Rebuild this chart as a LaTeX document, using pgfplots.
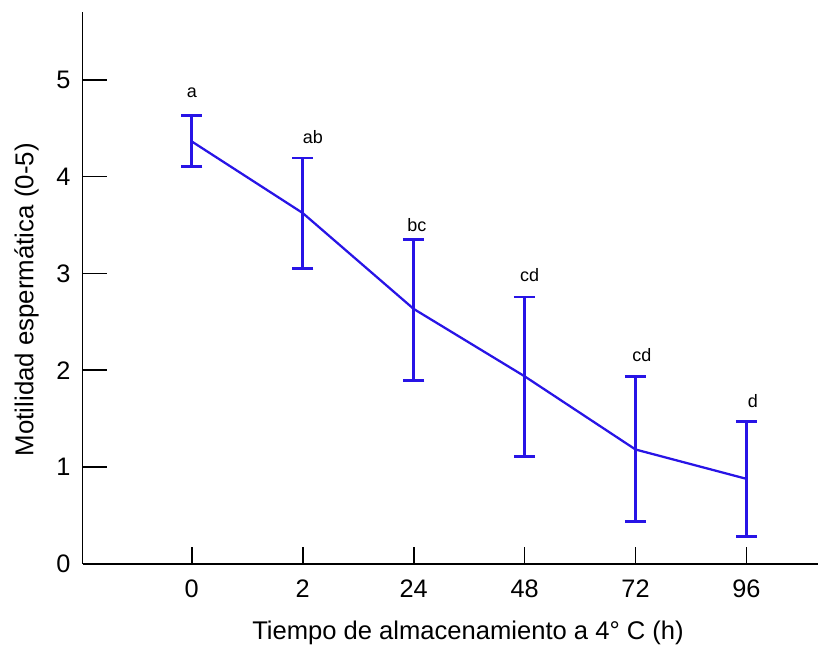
\documentclass[border=0pt]{standalone}
\usepackage{fontspec}
\setmainfont{Liberation Sans}
\usepackage{pgfplots}
\usepackage{pgfplotstable}
\pgfplotsset{compat=1.18}
\definecolor{lineblue}{RGB}{40,20,230}

\pgfplotstableread{
x y ep em
0 4.363 0.269 0.258
1 3.624 0.568 0.574
2 2.634 0.715 0.740
3 1.938 0.819 0.826
4 1.182 0.756 0.740
5 0.879 0.588 0.598
}\motdata

\pgfplotstableread{
x y label
0     4.821 a
1.092 4.347 ab
2.029 3.434 bc
3.046 2.912 cd
4.058 2.087 cd
5.058 1.612 d
}\letdata

\begin{document}
\begin{tikzpicture}
\begin{axis}[
  name=ax,
  scale only axis,
  width=552.2pt, height=414.4pt,
  xmin=-0.984, xmax=5.646,
  ymin=0, ymax=5.70,
  clip=false,
  axis x line=bottom, axis y line=left,
  axis line style={-, line width=1.3pt, black},
  tick align=inside,
  xtick={0,1,2,3,4,5},
  xticklabels={0,2,24,48,72,96},
  ytick={0,1,2,3,4,5},
  minor tick num=0,
  xtick style={line width=1.3pt, black, /pgfplots/major tick length=13pt},
  ytick style={line width=1.3pt, black, /pgfplots/major tick length=18pt},
  /pgf/number format/assume math mode=true,
  xticklabel style={font=\fontsize{19}{22}\selectfont, anchor=north, inner sep=0pt, yshift=-11.6pt},
  yticklabel style={font=\fontsize{19}{22}\selectfont, anchor=east, inner sep=0pt, xshift=-9pt},
  xlabel={Tiempo de almacenamiento a 4° C (h)},
  ylabel={Motilidad espermática (0-5)},
  every axis x label/.style={at={([yshift=-56.6pt]axis description cs:0.524,0)}, anchor=base, font=\fontsize{19.2}{22}\selectfont, inner sep=0pt},
  every axis y label/.style={at={([xshift=-37pt]axis description cs:0,0.4787)}, anchor=base, rotate=90, font=\fontsize{19.4}{22}\selectfont, inner sep=0pt},
]
\addplot[lineblue, line width=1.7pt, mark=none,
  error bars/.cd, y dir=both, y explicit,
  error bar style={line width=2.2pt, lineblue},
  error mark options={rotate=90, mark size=8pt, line width=2.2pt, lineblue}]
  table[x=x, y=y, y error plus=ep, y error minus=em] {\motdata};
\addplot[draw=none, mark=none, nodes near coords, point meta=explicit symbolic,
  nodes near coords style={anchor=base, inner sep=0pt, text=black, font=\fontsize{13.5}{16}\selectfont}]
  table[x=x, y=y, meta=label] {\letdata};
\end{axis}
\path ([xshift=-62pt, yshift=-61.1pt]ax.south west) rectangle ([yshift=9pt]ax.north east);
\end{tikzpicture}
\end{document}
